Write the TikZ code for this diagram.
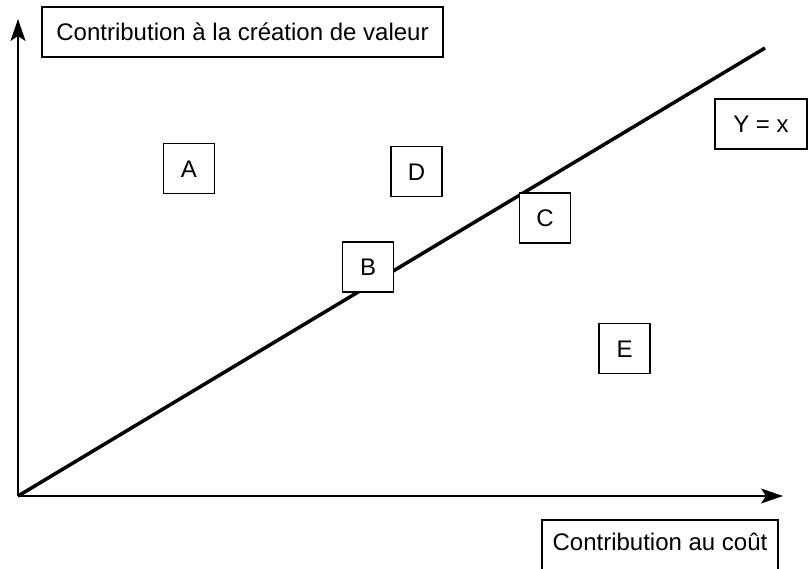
\documentclass[tikz,border=0pt]{standalone}
\usepackage{fontspec}
\setmainfont{Liberation Sans}
\usetikzlibrary{arrows.meta}
\begin{document}
\begin{tikzpicture}[x=1pt,y=-1pt,
  lbl/.style={draw,line width=1.5pt,fill=white,inner sep=0pt,font=\fontsize{24}{28}\selectfont,text height=17pt,text depth=0pt},
  sq/.style={lbl,minimum width=51pt,minimum height=50pt},
  axis/.style={line width=2pt,-{Stealth[length=22pt,width=15pt,inset=5pt]}}]
\useasboundingbox (0,0) rectangle (808,568);
\coordinate (O) at (18,496);
\coordinate (Ytop) at (18,19);
\coordinate (Xend) at (783,496);
\coordinate (Lend) at (765,48);
\draw[axis] (O) -- (Ytop);
\draw[axis] (O) -- (Xend);
\draw[line width=3.5pt] (O) -- (Lend);
\node[lbl,minimum width=401pt,minimum height=50pt] (ylab) at (242.5,32) {Contribution à la création de valeur};
\node[lbl,minimum width=92pt,minimum height=50pt] (eq) at (761,124) {Y = x};
\node[lbl,minimum width=236pt,minimum height=56pt] (xlab) at (660,548) {};
\node[anchor=base,font=\fontsize{24}{28}\selectfont] (xlabt) at (660,550) {Contribution au coût};
\node[sq] (A) at (189,168.5) {A};
\node[sq] (B) at (368,267) {B};
\node[sq] (C) at (545,218) {C};
\node[sq] (D) at (416.5,171.5) {D};
\node[sq] (E) at (624.5,348.5) {E};
\end{tikzpicture}
\end{document}
